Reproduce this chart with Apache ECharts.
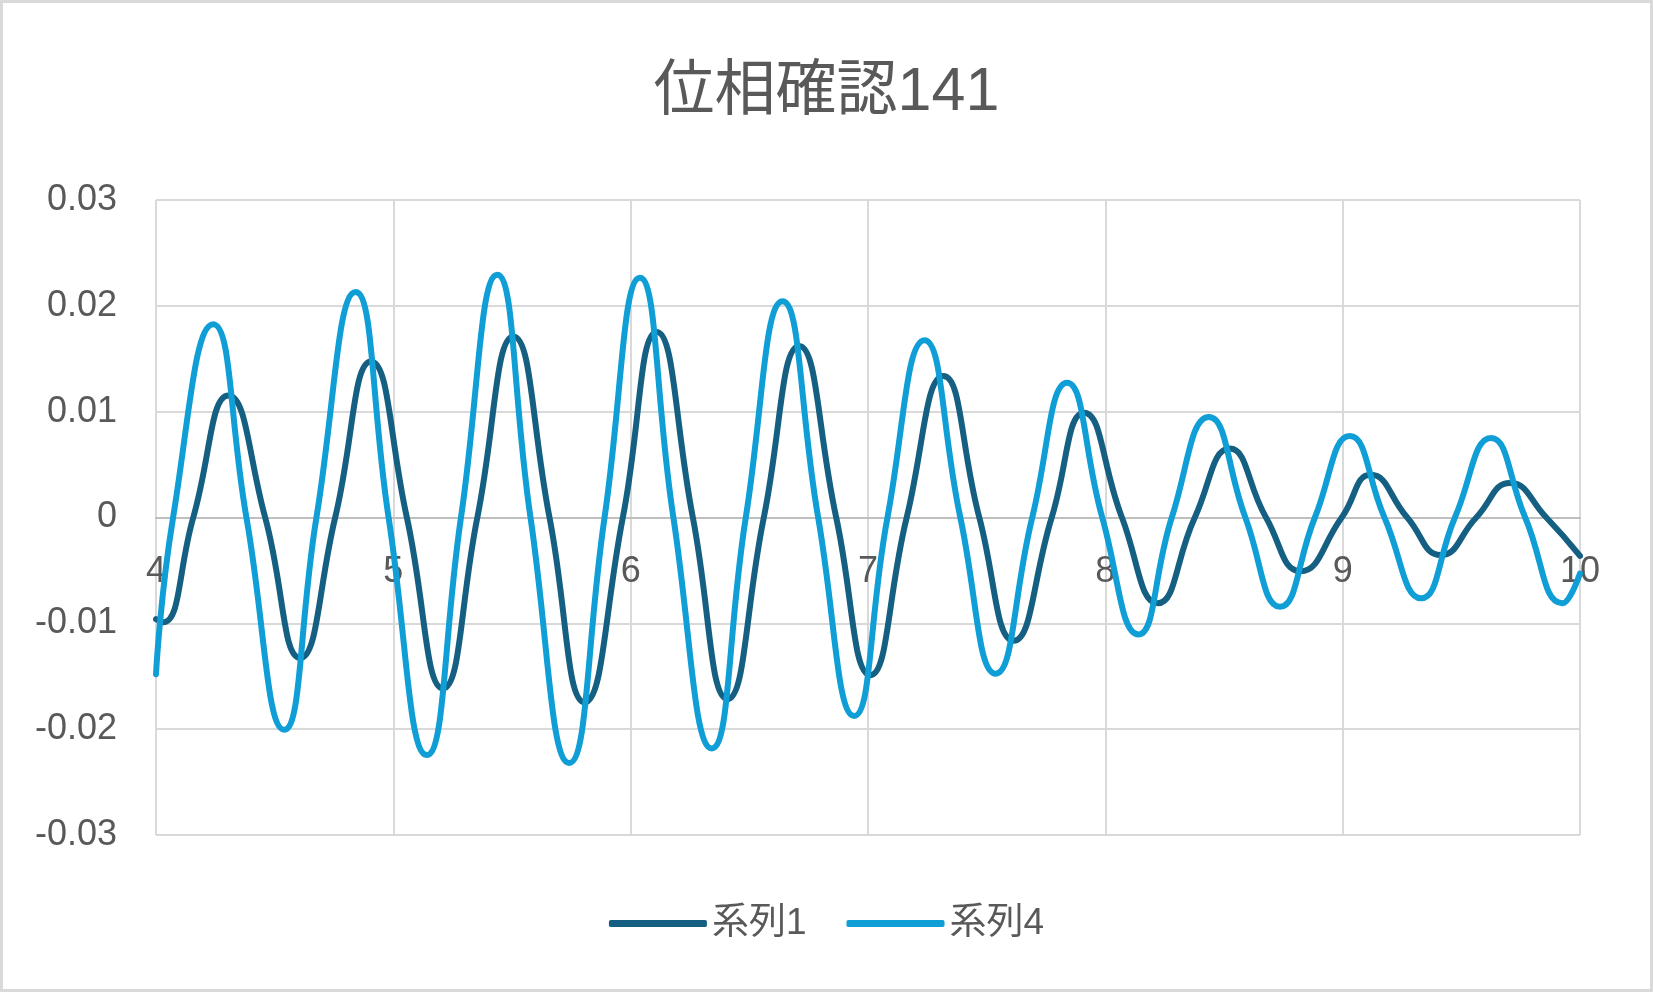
<!DOCTYPE html>
<html>
<head>
<meta charset="utf-8">
<script src="https://cdn.jsdelivr.net/npm/echarts@6/dist/echarts.min.js"></script>
<style>
  html, body { margin: 0; padding: 0; background: #fff; }
  #frame { position: absolute; left: 0; top: 0; width: 1653px; height: 992px; box-sizing: border-box; border: 3px solid #d9d9d9; pointer-events: none; }
  #chart { position: absolute; left: 0; top: 0; width: 1653px; height: 992px; }
</style>
</head>
<body>
<div id="chart"></div>
<div id="frame"></div>
<script>
const titleText = '位相確認141';
const seriesNames = ['系列1', '系列4'];
const xTicks = [4, 5, 6, 7, 8, 9, 10];
const yTicks = [-0.03, -0.02, -0.01, 0, 0.01, 0.02, 0.03];

// 系列1 (extrema and zero crossings)
const s1X = [4.00, 4.03, 4.157, 4.305, 4.46, 4.607, 4.755, 4.906, 5.057, 5.209, 5.354, 5.506, 5.658, 5.806, 5.967,
  6.11, 6.262, 6.408, 6.561, 6.71, 6.866, 7.01, 7.163, 7.318, 7.469, 7.614, 7.774, 7.911,
  8.07, 8.221, 8.377, 8.524, 8.677, 8.822, 8.996, 9.118, 9.272, 9.413, 9.563, 9.705, 9.858, 10.0];
const s1Y = [-0.0096, -0.0099, 0, 0.01152, 0, -0.01328, 0, 0.01475, 0, -0.01615, 0, 0.0171, 0, -0.01746, 0,
  0.01753, 0, -0.01715, 0, 0.0162, 0, -0.0149, 0, 0.01336, 0, -0.01165, 0, 0.0099,
  0, -0.0081, 0, 0.00651, 0, -0.00508, 0, 0.00404, 0, -0.00355, 0, 0.00326, 0, -0.00363];

// 系列4
const s4X = [4.00, 4.072, 4.241, 4.381, 4.54, 4.676, 4.841, 4.98, 5.141, 5.285, 5.438, 5.578, 5.741, 5.89,
  6.039, 6.18, 6.342, 6.485, 6.64, 6.79, 6.942, 7.082, 7.238, 7.389, 7.538, 7.692, 7.839, 7.987,
  8.139, 8.28, 8.436, 8.59, 8.736, 8.883, 9.03, 9.176, 9.331, 9.473, 9.625, 9.769, 9.926, 10.0];
const s4Y = [-0.0148, 0, 0.01827, 0, -0.02005, 0, 0.0213, 0, -0.02245, 0, 0.02293, 0, -0.0232, 0,
  0.02265, 0, -0.02182, 0, 0.02043, 0, -0.01875, 0, 0.01675, 0, -0.01476, 0, 0.01273, 0,
  -0.01105, 0, 0.0095, 0, -0.00844, 0, 0.0077, 0, -0.00764, 0, 0.00751, 0, -0.0081, -0.0053];

const colors = ['#156082', '#0F9ED5'];
const FONT = "'Liberation Sans', 'Noto Sans CJK JP', sans-serif";

const GRID = { left: 156, right: 73, top: 200, bottom: 157 };
const gridHeight = 992 - GRID.top - GRID.bottom;

const chart = echarts.init(document.getElementById('chart'), null, { renderer: 'canvas' });
const pairs = (xs, ys) => xs.map((x, i) => [x, ys[i]]);

chart.setOption({
  animation: false,
  backgroundColor: '#ffffff',
  title: {
    text: titleText,
    left: 'center',
    top: 58,
    textStyle: { fontFamily: FONT, fontSize: 61, fontWeight: 'normal', color: '#595959' }
  },
  legend: {
    bottom: 45,
    left: 'center',
    itemWidth: 98,
    itemHeight: 7,
    itemGap: 40,
    icon: 'roundRect',
    textStyle: { fontFamily: FONT, fontSize: 37, color: '#595959' },
    data: seriesNames
  },
  grid: { left: GRID.left, right: GRID.right, top: GRID.top, bottom: GRID.bottom, containLabel: false },
  xAxis: {
    type: 'value',
    position: 'bottom',
    offset: -gridHeight / 2,
    min: xTicks[0],
    max: xTicks[xTicks.length - 1],
    interval: 1,
    axisLine: { show: true, onZero: false, lineStyle: { color: '#bfbfbf', width: 2 } },
    axisTick: { show: false },
    axisLabel: { fontFamily: FONT, fontSize: 36, color: '#595959', margin: 37 },
    splitLine: { show: true, lineStyle: { color: '#d9d9d9', width: 2 } }
  },
  yAxis: {
    type: 'value',
    min: yTicks[0],
    max: yTicks[yTicks.length - 1],
    interval: 0.01,
    axisLine: { show: false },
    axisTick: { show: false },
    axisLabel: { fontFamily: FONT, fontSize: 36, color: '#595959', margin: 39,
      formatter: v => (Math.abs(v) < 1e-9 ? '0' : Number(v.toFixed(2)).toString()) },
    splitLine: { show: true, lineStyle: { color: '#d9d9d9', width: 2 } }
  },
  series: [
    { name: seriesNames[0], type: 'line', data: pairs(s1X, s1Y), smooth: 0.5, showSymbol: false, symbol: 'none',
      lineStyle: { color: colors[0], width: 6, cap: 'round', join: 'round' }, itemStyle: { color: colors[0] }, z: 3 },
    { name: seriesNames[1], type: 'line', data: pairs(s4X, s4Y), smooth: 0.5, showSymbol: false, symbol: 'none',
      lineStyle: { color: colors[1], width: 6, cap: 'round', join: 'round' }, itemStyle: { color: colors[1] }, z: 4 }
  ]
});
</script>
</body>
</html>
